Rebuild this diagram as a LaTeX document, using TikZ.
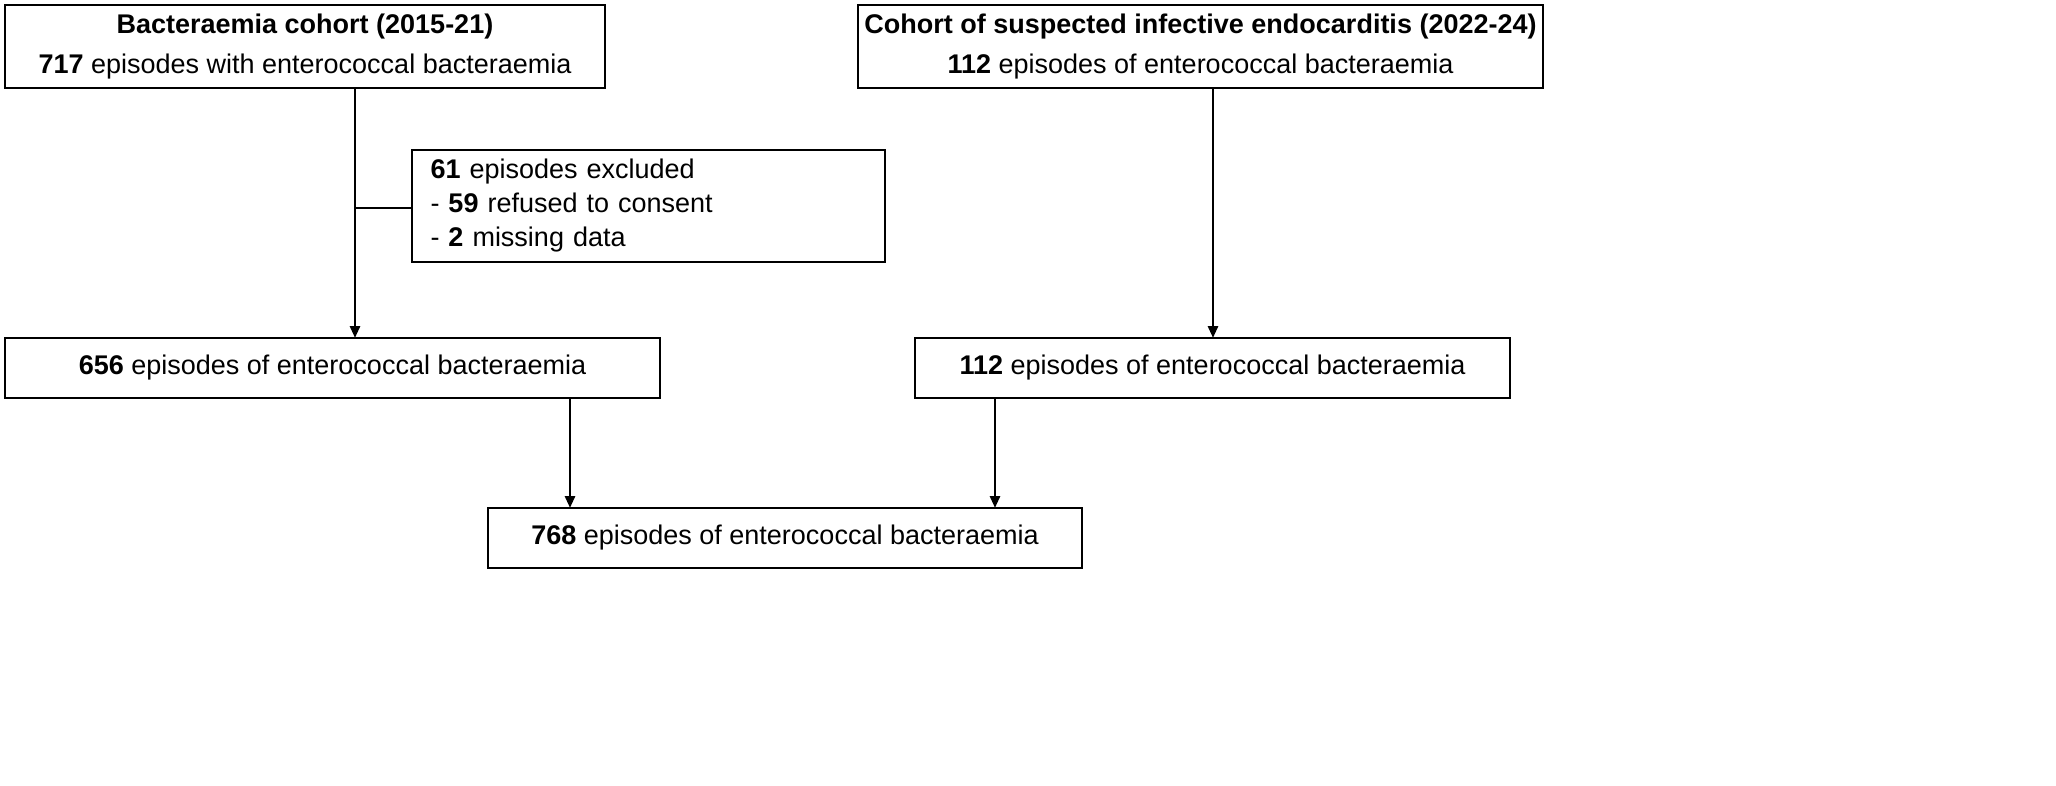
\documentclass[tikz,border=0pt]{standalone}
\usepackage{fontspec}
\setmainfont{Liberation Sans}
\usetikzlibrary{arrows.meta}
\begin{document}
\begin{tikzpicture}[x=0.5pt,y=-0.5pt,
  box/.style={draw,line width=1.4pt,inner sep=0pt,align=center,font=\fontsize{13.5}{20}\selectfont},
  arr/.style={line width=1.4pt,-{Triangle[length=6pt,width=5pt]}},
  ln/.style={line width=1.4pt}]
\useasboundingbox (0,0) rectangle (2056,786);
\node[box,minimum width=300pt,minimum height=41.5pt] (a) at (305,46.5) {\textbf{Bacteraemia cohort (2015-21)}\\\textbf{717} episodes with enterococcal bacteraemia};
\node[box,minimum width=342.5pt,minimum height=41.5pt] (b) at (1200.5,46.5) {\textbf{Cohort of suspected infective endocarditis (2022-24)}\\\textbf{112} episodes of enterococcal bacteraemia};
\node[box,minimum width=236.5pt,minimum height=56pt,align=left,text width=218pt,font=\fontsize{13.5}{17}\selectfont] (c) at (648.5,206) {\textbf{61} episodes excluded\\- \textbf{59} refused to consent\\- \textbf{2} missing data};
\node[box,minimum width=327.5pt,minimum height=30pt] (d) at (332.5,368) {\textbf{656} episodes of enterococcal bacteraemia};
\node[box,minimum width=297.5pt,minimum height=30pt] (e) at (1212.5,368) {\textbf{112} episodes of enterococcal bacteraemia};
\node[box,minimum width=297pt,minimum height=30pt] (f) at (785,538) {\textbf{768} episodes of enterococcal bacteraemia};
\coordinate (j) at (355,208);
\coordinate (at) at (355,88);
\coordinate (dt) at (355,338);
\coordinate (bt) at (1213,88);
\coordinate (et) at (1213,338);
\coordinate (db) at (570,398);
\coordinate (f1) at (570,508);
\coordinate (eb) at (995,398);
\coordinate (f2) at (995,508);
\draw[arr] (at) -- (dt);
\draw[ln] (j) -- (c.west |- j);
\draw[arr] (bt) -- (et);
\draw[arr] (db) -- (f1);
\draw[arr] (eb) -- (f2);
\end{tikzpicture}
\end{document}
